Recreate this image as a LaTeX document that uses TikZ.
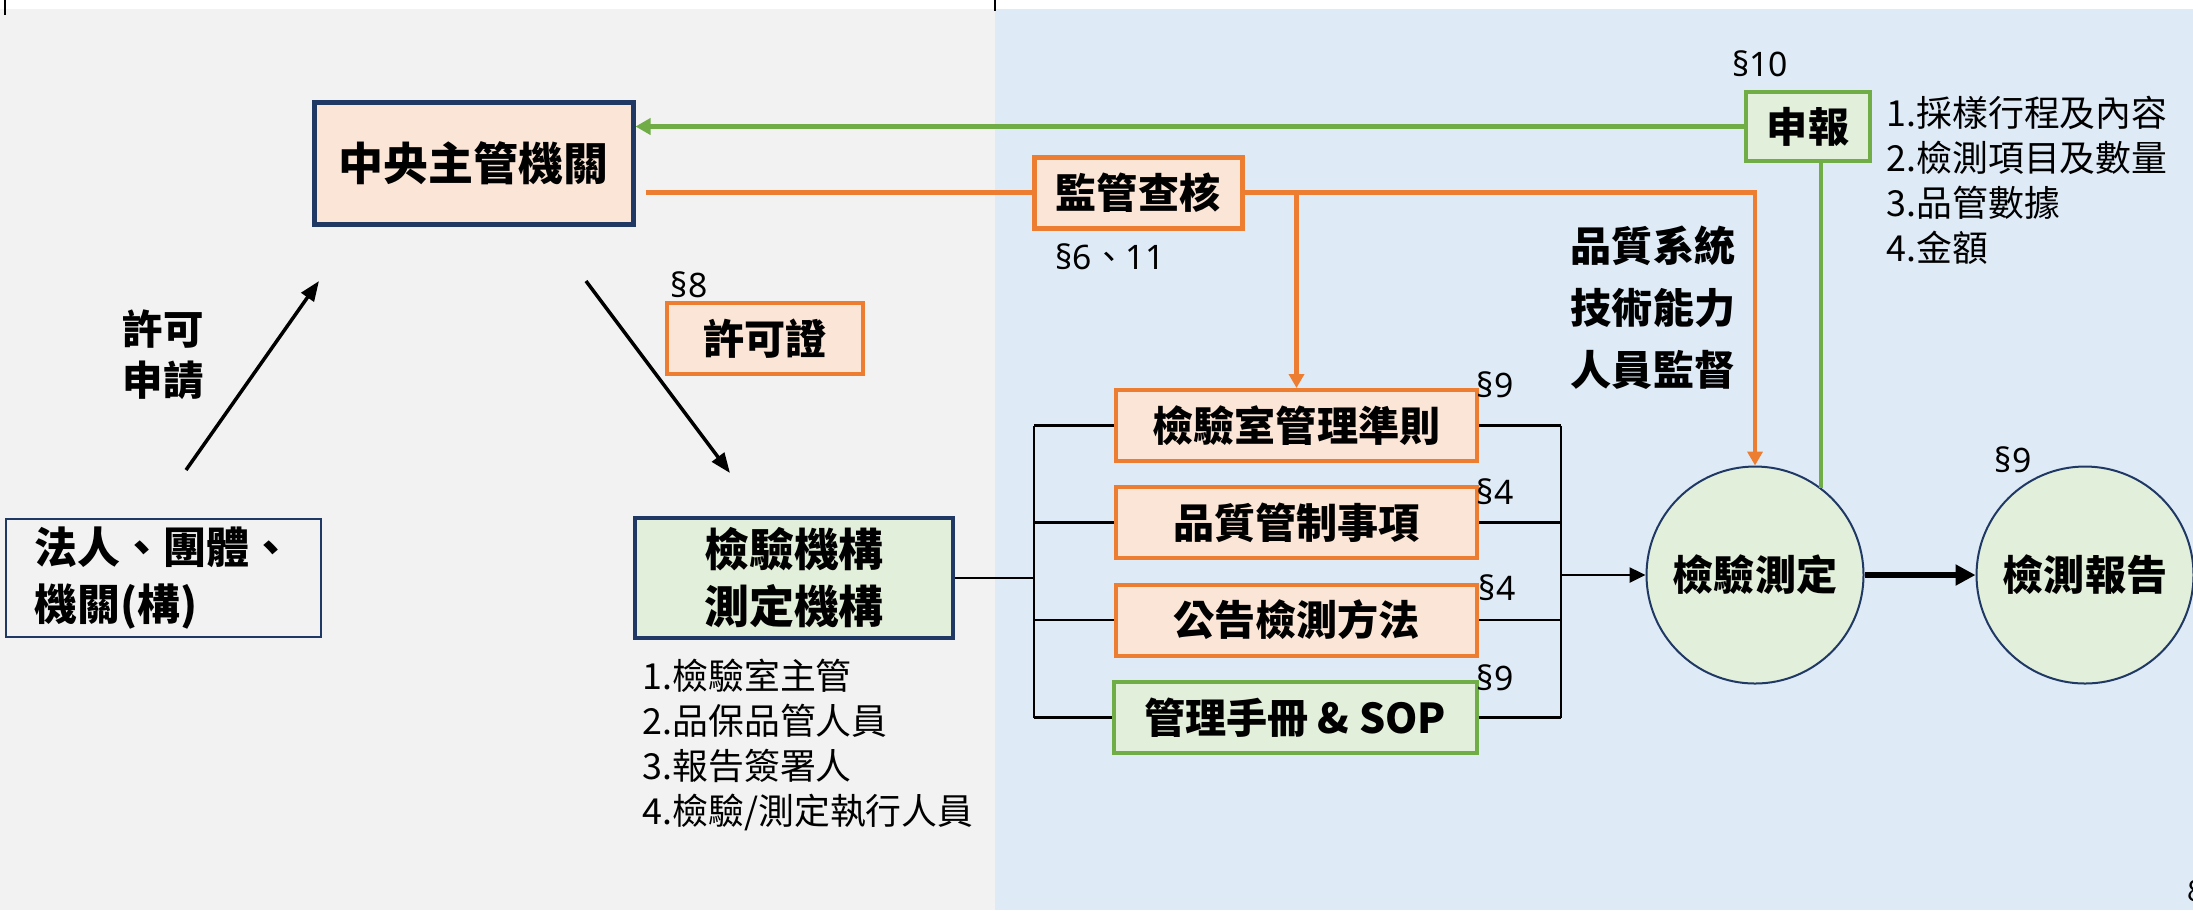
\documentclass[tikz,border=0pt]{standalone}
\usepackage{fontspec}
\setmainfont{Noto Sans CJK TC}
\newfontfamily\secfont{Noto Sans}
\usepackage{tikz}
\usetikzlibrary{arrows.meta}

\definecolor{bggray}{HTML}{F2F2F2}
\definecolor{bgblue}{HTML}{DEEBF7}
\definecolor{peach}{HTML}{FBE5D6}
\definecolor{lgreen}{HTML}{E2EFDA}
\definecolor{orng}{HTML}{ED7D31}
\definecolor{grn}{HTML}{70AD47}
\definecolor{navy}{HTML}{203864}

\begin{document}
\begin{tikzpicture}[x=0.1mm,y=-0.1mm,
    box/.style={draw, inner sep=0pt, minimum height=7.1mm, font=\fontsize{11.7pt}{14pt}\selectfont\bfseries},
    obox/.style={box, draw=orng, line width=0.4mm, fill=peach},
    gbox/.style={box, draw=grn, line width=0.35mm, fill=lgreen},
    rule/.style={obox, minimum width=36.1mm},
    disc/.style={circle, draw=navy, line width=0.2mm, fill=lgreen, minimum size=21.7mm, inner sep=0pt, font=\fontsize{11.7pt}{14pt}\selectfont\bfseries},
    sect/.style={inner sep=0pt, font=\fontsize{9.6pt}{11pt}\selectfont\secfont},
    listtxt/.style={inner sep=0pt, align=left, font=\fontsize{10.2pt}{12.8pt}\selectfont},
    oline/.style={draw=orng, line width=0.45mm},
    gline/.style={draw=grn, line width=0.45mm},
    bus/.style={draw=black, line width=0.25mm},
    otip/.style={-{Triangle[length=1.4mm,width=1.5mm]}},
    ktip/.style={-{Triangle[length=1.6mm,width=1.5mm]}}
]
    % page
    \useasboundingbox (0,0) rectangle (2193,910);
    \fill[white] (0,0) rectangle (2193,910);
    \fill[bggray] (0,9) rectangle (995,910); % applicant side
    \fill[bgblue] (995,9) rectangle (2193,910); % lab side
    \draw[line width=0.2mm] (5,0) -- (5,15);
    \draw[line width=0.2mm] (995,0) -- (995,11);

    % main boxes
    \node[box, draw=navy, line width=0.5mm, fill=peach, minimum width=31.9mm, minimum height=12.2mm, font=\fontsize{12.8pt}{15pt}\selectfont\bfseries] (cen) at (473.5,163) {中央主管機關};
    \node[box, draw=navy, line width=0.25mm, minimum width=31.5mm, minimum height=11.8mm, align=left, font=\fontsize{12.2pt}{16.2pt}\selectfont\bfseries] (corp) at (163.5,578) {法人、團體、\\機關(構)};
    \node[box, draw=navy, line width=0.4mm, fill=lgreen, minimum width=31.8mm, minimum height=12mm, align=center, font=\fontsize{12.8pt}{16.2pt}\selectfont\bfseries] (inst) at (794,578) {檢驗機構\\測定機構};
    \node[obox, minimum width=19.6mm] (permit) at (765,338.5) {許可證};
    \node[obox, line width=0.5mm, minimum width=20.8mm] (audit) at (1138,192.5) {監管查核};
    \node[gbox, minimum width=12.4mm, minimum height=6.9mm] (report) at (1808,126.5) {申報};

    % rules
    \node[rule] (r1) at (1296.5,425.5) {檢驗室管理準則};
    \node[rule] (r2) at (1296.5,522.5) {品質管制事項};
    \node[rule] (r3) at (1296.5,620) {公告檢測方法};
    \node[gbox, line width=0.4mm, minimum width=36.3mm] (r4) at (1295,717.5) {管理手冊 \& SOP};

    % circles
    \node[disc] (test) at (1755,575) {檢驗測定};
    \node[disc] (out) at (2085,575) {檢測報告};

    % texts
    \node[inner sep=0pt, align=center, font=\fontsize{11.5pt}{14.5pt}\selectfont\bfseries] (apply) at (163,355) {許可\\申請};
    \node[inner sep=0pt, align=center, font=\fontsize{11.7pt}{17.6pt}\selectfont\bfseries] (scope) at (1653,307.5) {品質系統\\技術能力\\人員監督};
    \node[listtxt, anchor=west] (staff) at (642,745) {1.檢驗室主管\\2.品保品管人員\\3.報告簽署人\\4.檢驗/測定執行人員};
    \node[listtxt, anchor=west] (items) at (1886,180) {1.採樣行程及內容\\2.檢測項目及數量\\3.品管數據\\4.金額};
    \node[sect] (s8) at (689,285) {§8};
    \node[sect] (s611) at (1110,257) {§6{\normalfont 、}11};
    \node[sect] (s10) at (1760,64) {§10};
    \node[sect] (s9a) at (1495,385) {§9};
    \node[sect] (s4a) at (1495,492) {§4};
    \node[sect] (s4b) at (1497,588) {§4};
    \node[sect] (s9b) at (1495,678) {§9};
    \node[sect] (s9c) at (2013,460) {§9};
    \node[inner sep=0pt, font=\fontsize{8.3pt}{10pt}\selectfont] (pg) at (2196,891) {8};

    % arrows on the left
    \coordinate (appS) at (186,470);
    \coordinate (appE) at (319,281);
    \coordinate (licS) at (586,281);
    \coordinate (licE) at (730,473);
    \draw[line width=0.35mm, -{Triangle[length=2mm,width=1.5mm]}] (appS) -- (appE); % apply
    \draw[line width=0.35mm, -{Triangle[length=2mm,width=1.5mm]}] (licS) -- (licE); % licence

    % supervision
    \draw[oline, shorten <=1mm] (cen.east |- audit.west) -- (audit.west);
    \draw[oline, otip] (audit.east) -| (test.north);
    \draw[oline, otip] (audit.east -| r1.north) -- (r1.north);

    % declaration
    \draw[gline, -{Triangle[length=1.5mm,width=1.6mm]}] (report.west) -- (cen.east |- report.west);
    \draw[gline] (test.53) -- (test.53 |- report.south);

    % bus
    \coordinate (busL) at (1034,580);
    \coordinate (busR) at (1561,575);
    \draw[bus] (inst.east) -- (inst.east -| busL);
    \draw[bus] (r1.west -| busL) -- (r4.west -| busL);
    \draw[bus] (r1.east -| busR) -- (r4.east -| busR);
    \foreach \r in {r1,r2,r3,r4} {
        \draw[bus] (\r.west -| busL) -- (\r.west);
        \draw[bus] (\r.east) -- (\r.east -| busR);
    }
    \draw[bus, ktip] (busR) -- (test.west);
    \draw[line width=0.6mm, -{Triangle[length=2mm,width=2mm]}] (test.east) -- (out.west);
\end{tikzpicture}
\end{document}
